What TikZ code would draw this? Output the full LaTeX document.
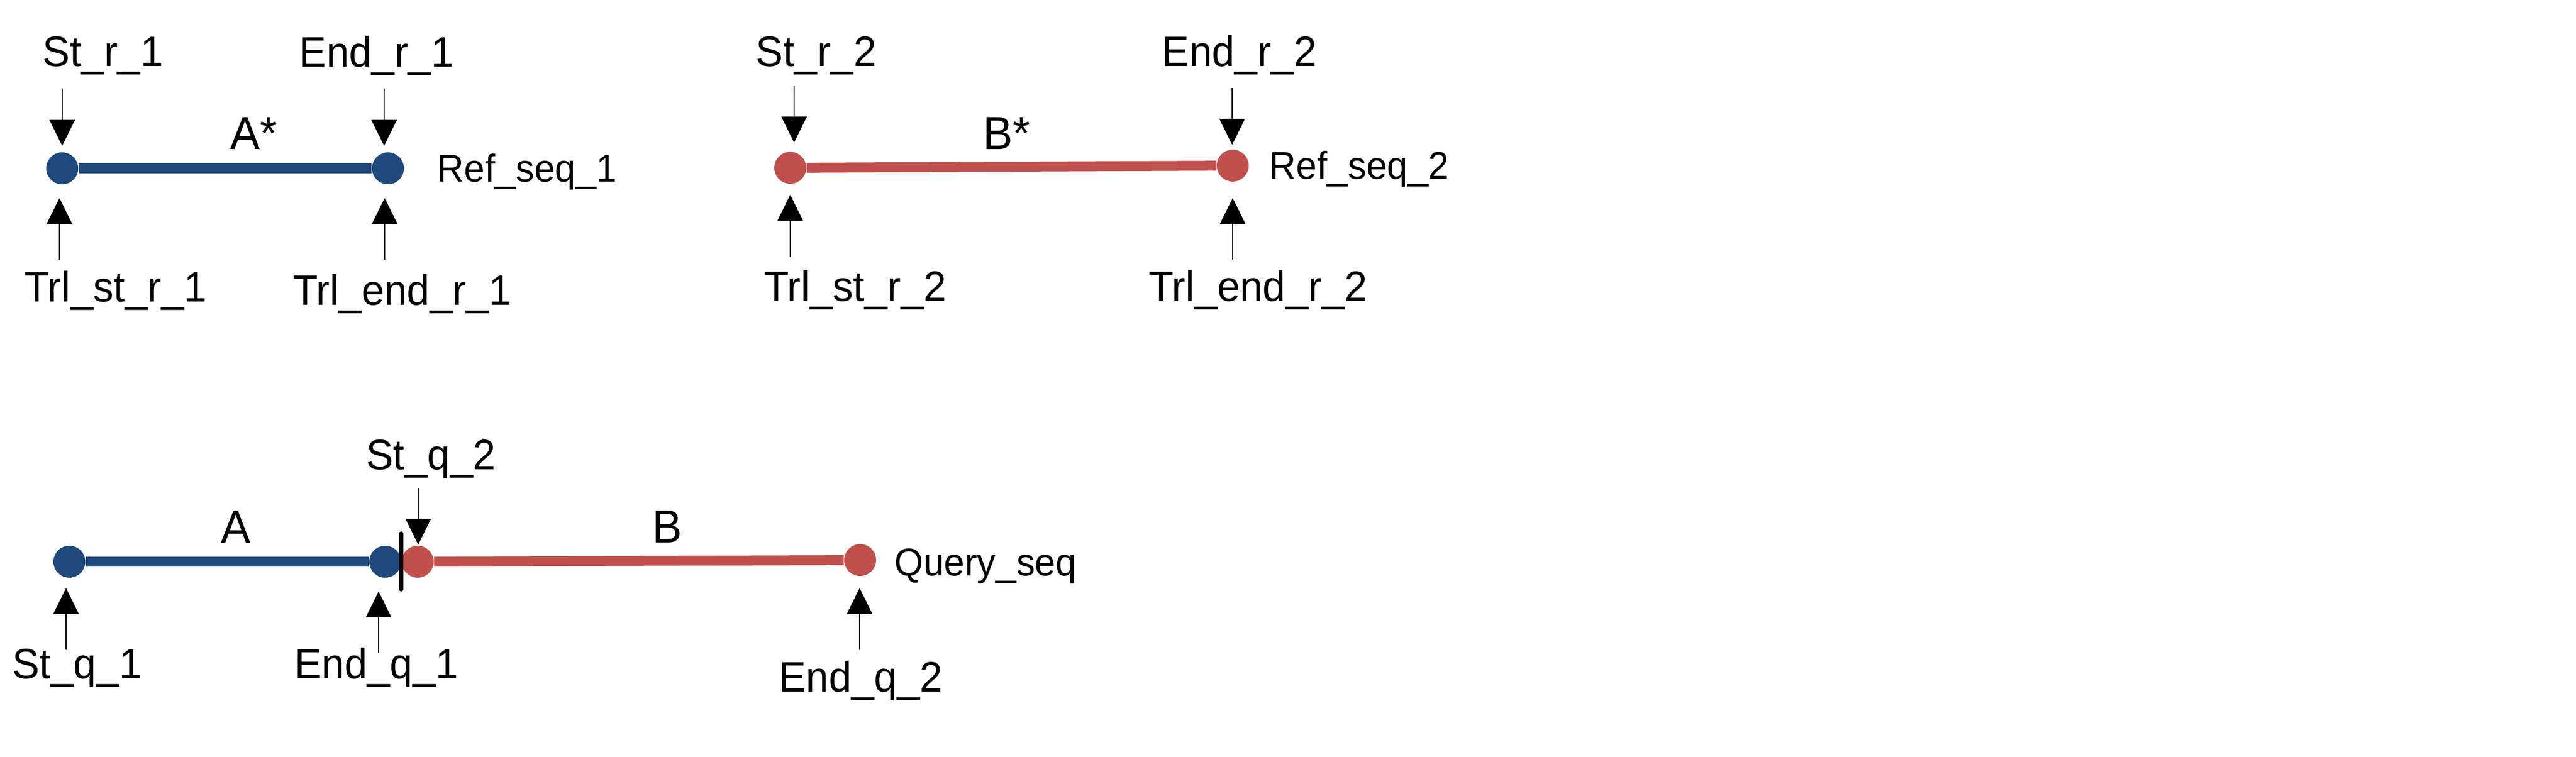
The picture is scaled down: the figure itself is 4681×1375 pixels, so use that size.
\documentclass[tikz,border=0pt]{standalone}
\usepackage{fontspec}
\setmainfont{Liberation Sans}[FakeStretch=0.96]
\usetikzlibrary{arrows.meta}
\definecolor{segblue}{RGB}{31,73,125}
\definecolor{segred}{RGB}{192,80,77}
\tikzset{
    lbl/.style={inner sep=0pt, anchor=base, font=\fontsize{22}{26}\selectfont},
    seglbl/.style={inner sep=0pt, anchor=base, font=\fontsize{24}{28}\selectfont},
    seqname/.style={inner sep=0pt, anchor=base west, font=\fontsize{20}{24}\selectfont},
    seqdot/.style={circle, fill=#1, inner sep=0pt, minimum size=0.58cm},
    seg/.style={draw=#1, line width=0.18cm},
    ptr/.style={->, line width=0.02cm}
}

\begin{document}
\begin{tikzpicture}[x=0.01cm, y=-0.01cm, >={Triangle[width=0.46cm,length=0.47cm]}]
        \useasboundingbox (0,0) rectangle (4681,1375);

        % reference 1
        \node[seqdot=segblue] (r1s) at (113,306) {};
        \node[seqdot=segblue] (r1e) at (705,306) {};
        \draw[seg=segblue] (r1s) -- (r1e);
        \node[seglbl] (astar) at (461,271) {A*};
        \node[seqname] (ref1) at (794,330) {Ref\_seq\_1};
        \node[lbl] (str1) at (187,120) {St\_r\_1};
        \node[lbl] (endr1) at (684,121) {End\_r\_1};
        \node[lbl] (trlstr1) at (210,548) {Trl\_st\_r\_1};
        \node[lbl] (trlendr1) at (731,554) {Trl\_end\_r\_1};

        \coordinate (str1a) at (113,161);
        \coordinate (str1b) at (113,265);
        \coordinate (endr1a) at (698,161);
        \coordinate (endr1b) at (698,265);
        \coordinate (trlstr1a) at (108,472);
        \coordinate (trlstr1b) at (108,360);
        \coordinate (trlendr1a) at (699,472);
        \coordinate (trlendr1b) at (699,360);
        \draw[ptr] (str1a) -- (str1b);
        \draw[ptr] (endr1a) -- (endr1b);
        \draw[ptr] (trlstr1a) -- (trlstr1b);
        \draw[ptr] (trlendr1a) -- (trlendr1b);

        % reference 2
        \node[seqdot=segred] (r2s) at (1436,305) {};
        \node[seqdot=segred] (r2e) at (2240,301) {};
        \draw[seg=segred] (r2s) -- (r2e);
        \node[seglbl] (bstar) at (1829,271) {B*};
        \node[seqname] (ref2) at (2306,325) {Ref\_seq\_2};
        \node[lbl] (str2) at (1483,120) {St\_r\_2};
        \node[lbl] (endr2) at (2252,120) {End\_r\_2};
        \node[lbl] (trlstr2) at (1554,547) {Trl\_st\_r\_2};
        \node[lbl] (trlendr2) at (2286,547) {Trl\_end\_r\_2};

        \coordinate (str2a) at (1443,156);
        \coordinate (str2b) at (1443,259);
        \coordinate (endr2a) at (2239,160);
        \coordinate (endr2b) at (2239,263);
        \coordinate (trlstr2a) at (1436,467);
        \coordinate (trlstr2b) at (1436,354);
        \coordinate (trlendr2a) at (2240,472);
        \coordinate (trlendr2b) at (2240,360);
        \draw[ptr] (str2a) -- (str2b);
        \draw[ptr] (endr2a) -- (endr2b);
        \draw[ptr] (trlstr2a) -- (trlstr2b);
        \draw[ptr] (trlendr2a) -- (trlendr2b);

        % query
        \node[seqdot=segblue] (q1s) at (126,1021) {};
        \node[seqdot=segblue] (q1e) at (700,1021) {};
        \node[seqdot=segred] (q2s) at (759,1021) {};
        \node[seqdot=segred] (q2e) at (1563,1018) {};
        \draw[seg=segblue] (q1s) -- (q1e);
        \draw[seg=segred] (q2s) -- (q2e);
        \coordinate (cuta) at (729,970);
        \coordinate (cutb) at (729,1071);
        \draw[line width=0.08cm, line cap=round] (cuta) -- (cutb);
        \node[seglbl] (aq) at (429,987) {A};
        \node[seglbl] (bq) at (1213,986) {B};
        \node[seqname] (query) at (1625,1046) {Query\_seq};
        \node[lbl] (stq2) at (783,853) {St\_q\_2};
        \node[lbl] (stq1) at (140,1233) {St\_q\_1};
        \node[lbl] (endq1) at (684,1233) {End\_q\_1};
        \node[lbl] (endq2) at (1564,1257) {End\_q\_2};

        \coordinate (stq2a) at (760,887);
        \coordinate (stq2b) at (760,990);
        \coordinate (stq1a) at (120,1181);
        \coordinate (stq1b) at (120,1069);
        \coordinate (endq1a) at (688,1187);
        \coordinate (endq1b) at (688,1075);
        \coordinate (endq2a) at (1562,1181);
        \coordinate (endq2b) at (1562,1069);
        \draw[ptr] (stq2a) -- (stq2b);
        \draw[ptr] (stq1a) -- (stq1b);
        \draw[ptr] (endq1a) -- (endq1b);
        \draw[ptr] (endq2a) -- (endq2b);
\end{tikzpicture}
\end{document}
